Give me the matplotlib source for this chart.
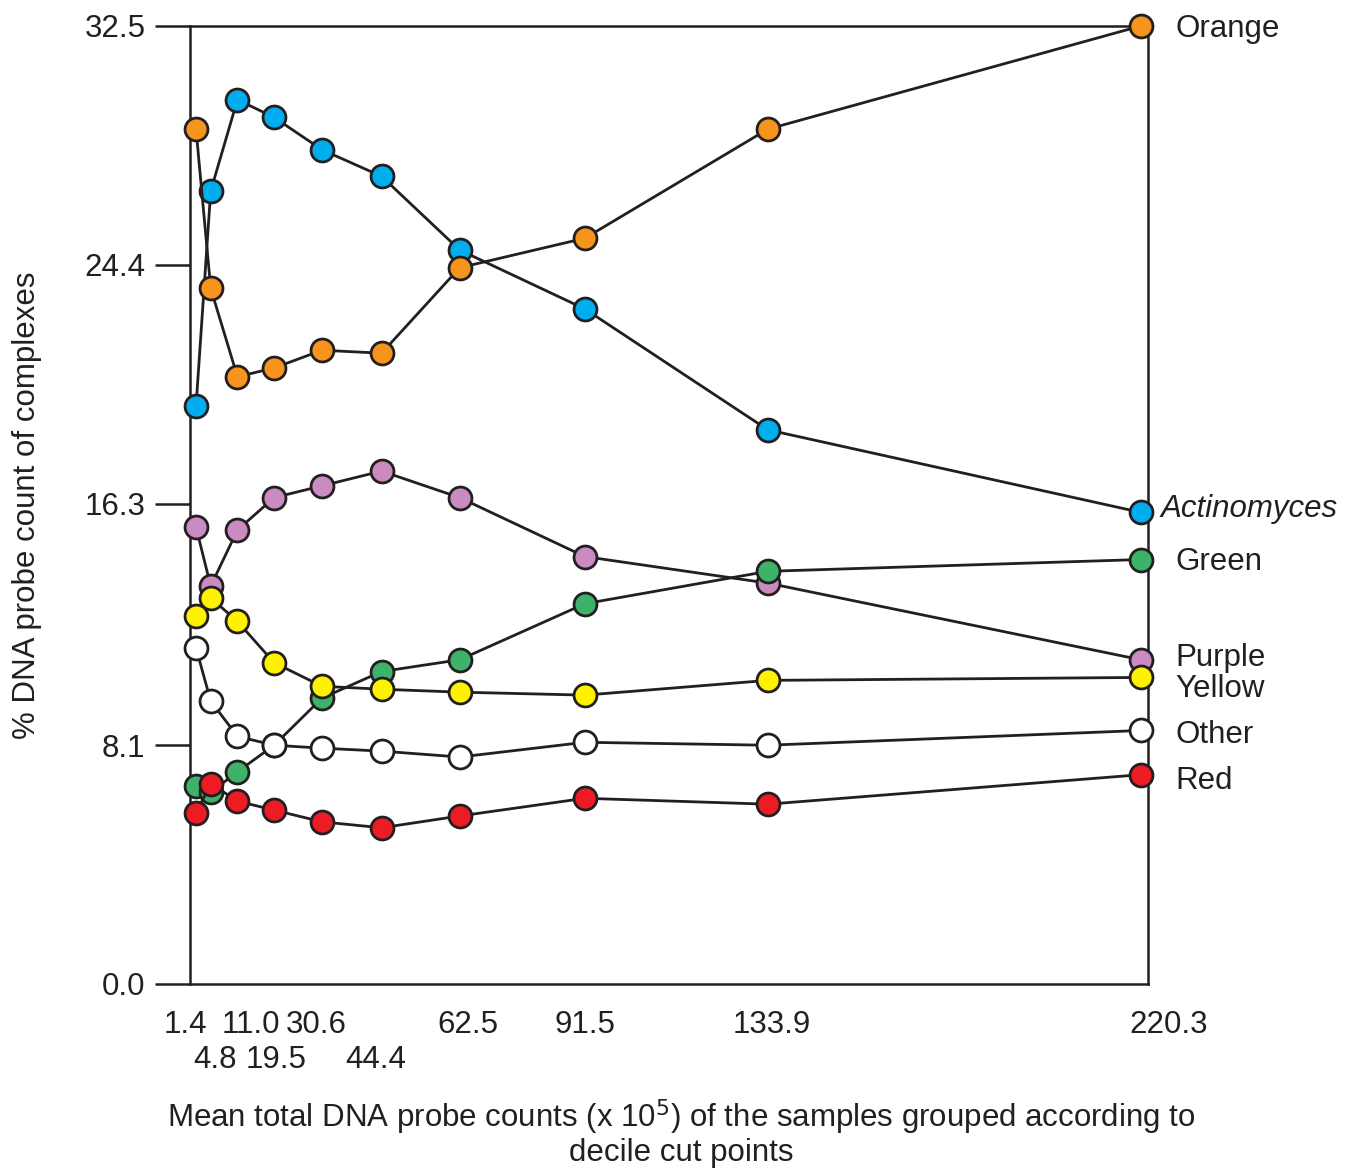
import matplotlib
matplotlib.use("Agg")
import matplotlib.pyplot as plt
import matplotlib.transforms as mtransforms

plt.rcParams['font.family'] = ['Liberation Sans', 'DejaVu Sans']

# mean total DNA probe counts (x 10^5) per decile group
x = [1.4, 4.8, 11.0, 19.5, 30.6, 44.4, 62.5, 91.5, 133.9, 220.3]
# upper row / lower row of the staggered x labels
x_top = [1.4, 11.0, 30.6, 62.5, 91.5, 133.9, 220.3]
x_low = [4.8, 19.5, 44.4]
# small sideways nudges (points) so the crowded labels don't collide
shift_top = [-8, 10, -4, 6, 0, 3, 20]
shift_low = [3, 1.5, -4]

# % DNA probe count of complexes
actino = [19.6, 26.9, 30.0, 29.4, 28.3, 27.4, 24.9, 22.9, 18.8, 16.0]
orange = [29.0, 23.6, 20.6, 20.9, 21.5, 21.4, 24.3, 25.3, 29.0, 32.5]
purple = [15.5, 13.5, 15.4, 16.5, 16.9, 17.4, 16.5, 14.5, 13.6, 11.0]
green = [6.7, 6.5, 7.2, 8.1, 9.7, 10.6, 11.0, 12.9, 14.0, 14.4]
other = [11.4, 9.6, 8.4, 8.1, 8.0, 7.9, 7.7, 8.2, 8.1, 8.6]
yellow = [12.5, 13.1, 12.3, 10.9, 10.1, 10.0, 9.9, 9.8, 10.3, 10.4]
red = [5.8, 6.8, 6.2, 5.9, 5.5, 5.3, 5.7, 6.3, 6.1, 7.1]

names = ['Actinomyces', 'Orange', 'Purple', 'Green', 'Other', 'Yellow', 'Red']
series = [actino, orange, purple, green, other, yellow, red]
colors = ['#00AEEF', '#F7941D', '#C98BC0', '#3DB36A', '#FFFFFF', '#FFF200', '#ED1C24']
label_y = [16.1, 32.4, 11.05, 14.3, 8.45, 10.0, 6.9]

yticks = [0.0, 8.1, 16.3, 24.4, 32.5]

FS = 22.5
INK = '#231F20'

fig = plt.figure(figsize=(13.57, 11.71), dpi=100)
ax = fig.add_axes([0.140, 0.1597, 0.706, 0.8181])

for i, (name, vals, col) in enumerate(zip(names, series, colors)):
    ax.plot(x, vals, '-o', color=INK, lw=2.0, ms=16.5,
            mfc=col, mec=INK, mew=2.0, zorder=3 + i, clip_on=False)
    style = 'italic' if name == 'Actinomyces' else 'normal'
    dx = 14 if name == 'Actinomyces' else 25
    ax.annotate(name, (x[-1], label_y[i]), xytext=(dx, 0), textcoords='offset points',
                ha='left', va='center', fontsize=FS, style=style, color=INK,
                annotation_clip=False)

ax.set_xlim(0, 222)
ax.set_ylim(0, 32.5)
ax.set_yticks(yticks)
ax.set_yticklabels(['%.1f' % v for v in yticks])
ax.set_xticks(x_top)
ax.set_xticklabels(['%.1f' % v for v in x_top])
ax.set_xticks(x_low, minor=True)
ax.set_xticklabels(['%.1f' % v for v in x_low], minor=True)

ax.tick_params(axis='y', length=25, width=1.8, pad=7, labelsize=FS, colors=INK)
ax.tick_params(axis='x', which='major', length=0, pad=19, labelsize=FS, colors=INK)
ax.tick_params(axis='x', which='minor', length=0, pad=44, labelsize=FS, colors=INK)

def nudge(labels, shifts):
    for lab, dx in zip(labels, shifts):
        lab.set_transform(lab.get_transform() +
                          mtransforms.ScaledTranslation(dx / 72, 0, fig.dpi_scale_trans))

nudge(ax.get_xticklabels(), shift_top)
nudge(ax.get_xticklabels(minor=True), shift_low)

for s in ax.spines.values():
    s.set_linewidth(1.8)
    s.set_color(INK)

ax.set_ylabel('% DNA probe count of complexes', fontsize=FS, color=INK)
ax.yaxis.set_label_coords(-0.154, 0.5)

fig.text(681 / 1357, 1 - 1117 / 1171,
         'Mean total DNA probe counts (x 10$^5$) of the samples grouped according to',
         ha='center', va='center', fontsize=FS, color=INK)
fig.text(681 / 1357, 1 - 1153 / 1171, 'decile cut points',
         ha='center', va='center', fontsize=FS, color=INK)

fig.savefig('out.png', dpi=100)
